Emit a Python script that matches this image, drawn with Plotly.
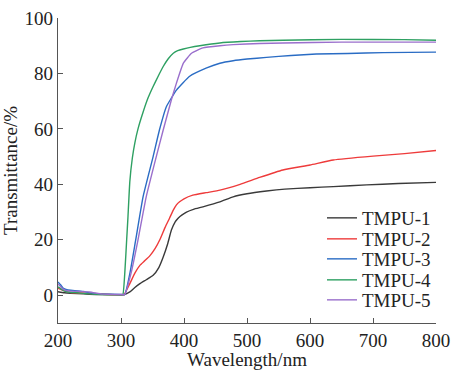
import plotly.graph_objects as go

names = ["TMPU-1", "TMPU-2", "TMPU-3", "TMPU-4", "TMPU-5"]
colors = ["#3a3a3a", "#ee3b3b", "#2a6cc4", "#2ea062", "#9a6fcc"]

wl1 = [200, 210, 220, 240, 260, 280, 300, 305, 314, 322, 330, 340, 351, 360, 367, 374, 380, 386, 391, 397, 404, 415, 430, 457, 478, 500, 531, 560, 600, 637, 690, 740, 800]
t1 = [1.3, 0.9, 0.7, 0.5, 0.3, 0.3, 0.2, 0.2, 1.2, 2.8, 4.2, 5.6, 7.2, 10.0, 13.8, 18.5, 23.5, 26.5, 27.9, 29.0, 30.0, 31.0, 31.9, 33.7, 35.5, 36.6, 37.6, 38.3, 38.8, 39.2, 39.8, 40.3, 40.7]

wl2 = [200, 210, 220, 240, 260, 280, 300, 305, 314, 322, 330, 338, 346, 354, 362, 370, 377, 383, 388, 393, 400, 414, 435, 457, 489, 520, 557, 600, 637, 700, 750, 800]
t2 = [2.5, 1.6, 1.0, 0.8, 0.5, 0.3, 0.2, 0.3, 4.2, 8.0, 10.8, 12.5, 14.3, 16.8, 20.2, 24.5, 27.8, 30.7, 32.6, 33.7, 34.8, 36.1, 37.0, 37.9, 40.0, 42.5, 45.2, 47.0, 48.8, 50.2, 51.1, 52.2]

wl3 = [200, 204, 208, 214, 220, 240, 256, 270, 300, 306, 315, 323, 335, 351, 361, 372, 388, 409, 436, 457, 478, 500, 531, 570, 610, 660, 716, 800]
t3 = [4.8, 3.8, 2.6, 2.0, 1.8, 1.4, 0.6, 0.4, 0.3, 0.3, 9.0, 19.5, 35.5, 50.0, 59.6, 68.0, 74.0, 79.0, 82.0, 83.7, 84.6, 85.2, 85.8, 86.5, 87.0, 87.2, 87.5, 87.7]

wl4 = [200, 208, 215, 230, 250, 270, 300, 303, 306, 309, 311, 314, 318, 322, 327, 335, 343, 351, 359, 367, 375, 383, 390, 399, 410, 425, 457, 490, 520, 557, 650, 750, 800]
t4 = [3.0, 1.8, 1.2, 0.9, 0.5, 0.3, 0.2, 0.3, 8.0, 20.0, 28.0, 41.0, 49.5, 55.0, 60.0, 66.0, 71.2, 75.3, 79.0, 82.5, 85.3, 87.3, 88.2, 88.8, 89.4, 90.0, 91.0, 91.5, 91.8, 92.0, 92.3, 92.2, 92.0]

wl5 = [200, 204, 208, 214, 220, 250, 270, 300, 306, 316, 327, 340, 356, 367, 380, 388, 399, 412, 430, 457, 478, 520, 557, 650, 800]
t5 = [4.0, 3.2, 2.2, 1.7, 1.5, 1.2, 0.4, 0.3, 0.3, 8.0, 20.0, 35.5, 50.0, 59.6, 70.5, 76.5, 83.7, 87.3, 89.2, 90.0, 90.4, 90.8, 91.0, 91.3, 91.3]

xs = [wl1, wl2, wl3, wl4, wl5]
ys = [t1, t2, t3, t4, t5]

x_ticks = [200, 300, 400, 500, 600, 700, 800]
y_ticks = [0, 20, 40, 60, 80, 100]

FONT = "Liberation Serif, Times New Roman, serif"
TXT = dict(family=FONT, size=19, color="#222222")

W, H = 454, 370
L, R, T, B = 58, 18, 18, 47
ph = H - T - B

legend_rows_px = [218, 239, 259, 280, 300]
legend_left_px = 322

fig = go.Figure()
layout_legends = {}
for i, (n, c, x, y) in enumerate(zip(names, colors, xs, ys)):
    key = "legend" if i == 0 else f"legend{i+1}"
    fig.add_trace(go.Scatter(x=x, y=y, mode="lines", name=n, legend=key,
                             line=dict(color=c, width=1.4, shape="spline", smoothing=0.4)))
    layout_legends[key] = dict(
        x=(legend_left_px - L) / (W - L - R),
        y=(H - B - legend_rows_px[i]) / ph,
        xanchor="left", yanchor="middle",
        bgcolor="rgba(0,0,0,0)", font=TXT, itemwidth=30,
    )

axis_common = dict(showgrid=False, zeroline=False, showline=True, automargin=False,
                   linecolor="#555555", linewidth=1.2, ticks="inside",
                   ticklen=5, tickcolor="#555555", tickwidth=1.2,
                   tickfont=TXT)

fig.update_layout(
    width=W, height=H,
    margin=dict(l=L, r=R, t=T, b=B),
    paper_bgcolor="white", plot_bgcolor="white",
    showlegend=True,
    xaxis=dict(range=[200, 800], tickvals=x_ticks,
               title=dict(text="Wavelength/nm", font=TXT, standoff=2),
               **axis_common),
    yaxis=dict(range=[-10, 100], tickvals=y_ticks,
               title=dict(text="Transmittance/%", font=TXT, standoff=1),
               **axis_common),
    **layout_legends,
)

fig.write_html("out.html", config={"displayModeBar": False},
               post_script="document.body.style.margin='0px';")
